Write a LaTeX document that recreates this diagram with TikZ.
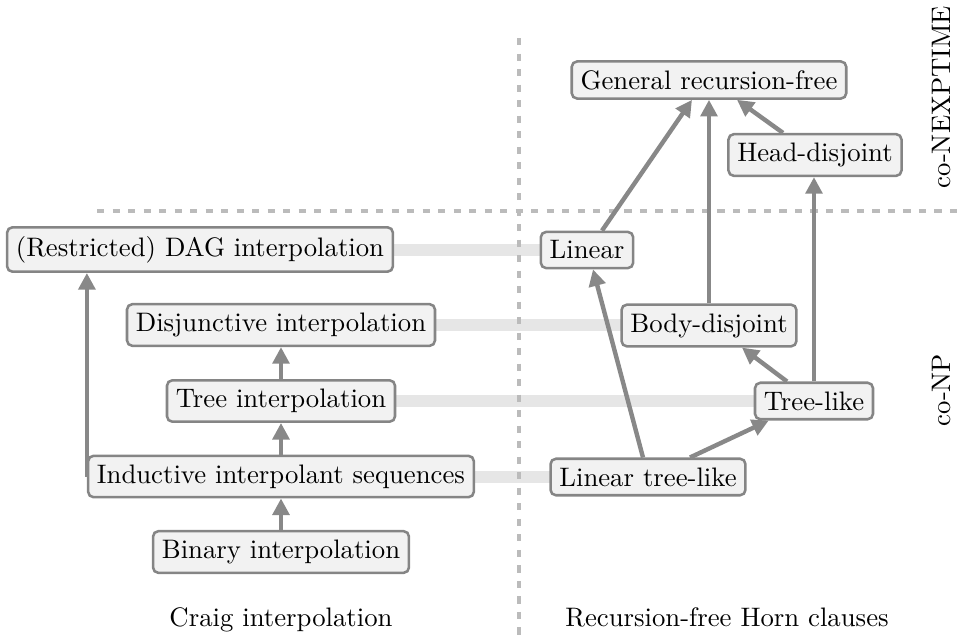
\documentclass[tikz,border=0pt]{standalone}
\usetikzlibrary{arrows.meta,calc}
\definecolor{boxborder}{HTML}{858585}
\definecolor{boxfill}{HTML}{F2F2F2}
\definecolor{arrowcol}{HTML}{888888}
\definecolor{linkcol}{HTML}{E6E6E6}
\definecolor{dashcol}{HTML}{BBBBBB}
\tikzset{
  cbox/.style={draw=boxborder, fill=boxfill, line width=0.95pt, rounded corners=2pt, inner sep=3.3pt},
  imp/.style={draw=arrowcol, line width=1.65pt, -{Triangle[length=6.2pt,width=6.2pt]}},
  link/.style={draw=linkcol, line width=4.5pt},
  sep/.style={draw=dashcol, line width=1.55pt, dash pattern=on 2.7pt off 3.1pt},
  lbl/.style={inner sep=0pt}
}
\begin{document}
\begin{tikzpicture}[x=0.374pt,y=-0.374pt]
\useasboundingbox (0,0) rectangle (958,635);
% correspondence links (behind nodes)
\coordinate (dagE) at (393,250);
\coordinate (linW) at (541,250);
\coordinate (disE) at (434,325);
\coordinate (bdW) at (622,325);
\coordinate (triE) at (395,401);
\coordinate (tlW) at (755,401);
\coordinate (indE) at (473,477);
\coordinate (ltlW) at (550,477);
\draw[link] (dagE) -- (linW);
\draw[link] (disE) -- (bdW);
\draw[link] (triE) -- (tlW);
\draw[link] (indE) -- (ltlW);
% separators
\coordinate (vtop) at (519,38);
\coordinate (vbot) at (519,635);
\coordinate (hleft) at (97,211);
\coordinate (hright) at (958,211);
\draw[sep] (vtop) -- (vbot);
\draw[sep] (hleft) -- (hright);
% nodes
\node[cbox] (dag) at (200,249.5) {(Restricted) DAG interpolation};
\node[cbox] (dis) at (281,325) {Disjunctive interpolation};
\node[cbox] (tri) at (281,401) {Tree interpolation};
\node[cbox] (ind) at (281,476.5) {Inductive interpolant sequences};
\node[cbox] (bin) at (281,552) {Binary interpolation};
\node[cbox] (gen) at (709,80) {General recursion-free};
\node[cbox] (hd) at (815,155) {Head-disjoint};
\node[cbox] (lin) at (587,250) {Linear};
\node[cbox] (bd) at (709,325.5) {Body-disjoint};
\node[cbox] (tl) at (814,401) {Tree-like};
\node[cbox] (ltl) at (648,477) {Linear tree-like};
% labels
\node[lbl, anchor=base] (craig) at (281,626) {Craig interpolation};
\node[lbl, anchor=base] (horn) at (727,626) {Recursion-free Horn clauses};
\node[lbl, rotate=90] (nexp) at (942,97) {co-NEXPTIME};
\node[lbl, rotate=90] (conp) at (942,390) {co-NP};
% arrows
\draw[imp] (bin.north) -- (ind.south);
\draw[imp] (ind.north) -- (tri.south);
\draw[imp] (tri.north) -- (dis.south);
\draw[imp] (ind.west) -- (ind.west |- dag.south);
\draw[imp] ($(ltl.north)+(-5,0)$) -- ($(lin.south)+(6,0)$);
\draw[imp] ($(ltl.north)+(42,0)$) -- ($(tl.south west)+(15,0)$);
\draw[imp] ($(tl.north)+(-27,0)$) -- ($(bd.south)+(33,0)$);
\draw[imp] (tl.north) -- (tl.north |- hd.south);
\draw[imp] (bd.north) -- (gen.south);
\draw[imp] ($(lin.north)+(15,0)$) -- ($(gen.south)+(-17,0)$);
\draw[imp] ($(hd.north)+(-32,0)$) -- ($(gen.south)+(28,0)$);
\end{tikzpicture}
\end{document}
